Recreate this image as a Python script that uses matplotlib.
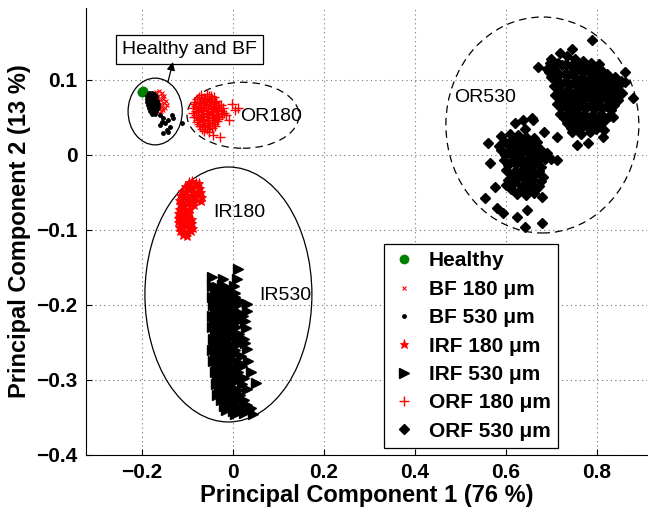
import matplotlib.pyplot as plt
from matplotlib.patches import Ellipse

plt.rcParams['font.family'] = ['Liberation Sans', 'DejaVu Sans']

# ---- data (PC1, PC2) ----
healthy_x = [-0.199, -0.199, -0.198]
healthy_y = [0.084, 0.084, 0.085]

bf180_x = [-0.170, -0.163, -0.157,
           -0.178, -0.171, -0.164, -0.157, -0.151,
           -0.175, -0.168, -0.161, -0.154, -0.148,
           -0.172, -0.165, -0.158, -0.151, -0.146,
           -0.170, -0.163, -0.156, -0.150,
           -0.166, -0.159, -0.153, -0.160]
bf180_y = [0.084, 0.085, 0.083,
           0.079, 0.080, 0.079, 0.078, 0.079,
           0.074, 0.075, 0.073, 0.074, 0.072,
           0.069, 0.070, 0.068, 0.069, 0.067,
           0.064, 0.063, 0.064, 0.062,
           0.059, 0.058, 0.060, 0.055]

bf530_x = [-0.185, -0.179, -0.173,
           -0.188, -0.182, -0.176, -0.170,
           -0.189, -0.183, -0.177, -0.171, -0.166,
           -0.188, -0.182, -0.176, -0.170, -0.165,
           -0.187, -0.181, -0.175, -0.169, -0.164,
           -0.185, -0.179, -0.173, -0.167,
           -0.182, -0.176, -0.170,
           -0.177, -0.171,
           -0.160, -0.154, -0.156, -0.149, -0.143, -0.138, -0.145,
           -0.160, -0.132, -0.112, -0.154, -0.143, -0.134]
bf530_y = [0.082, 0.083, 0.081,
           0.078, 0.079, 0.077, 0.078,
           0.074, 0.073, 0.075, 0.074, 0.072,
           0.070, 0.069, 0.071, 0.070, 0.068,
           0.066, 0.065, 0.067, 0.066, 0.064,
           0.062, 0.061, 0.063, 0.061,
           0.058, 0.057, 0.058,
           0.055, 0.054,
           0.053, 0.049, 0.044, 0.043, 0.047, 0.037, 0.033,
           0.040, 0.049, 0.043, 0.029, 0.031, 0.053]

irf180_x = [-0.097, -0.089, -0.081, -0.075,
            -0.106, -0.098, -0.090, -0.082, -0.072,
            -0.112, -0.104, -0.096, -0.088, -0.080, -0.070,
            -0.117, -0.109, -0.101, -0.093, -0.085, -0.077, -0.069,
            -0.118, -0.110, -0.102, -0.094, -0.086, -0.078, -0.071,
            -0.117, -0.109, -0.101, -0.093, -0.085,
            -0.119, -0.111, -0.103, -0.095,
            -0.120, -0.112, -0.104, -0.096,
            -0.121, -0.113, -0.105, -0.097, -0.090,
            -0.121, -0.113, -0.105, -0.097, -0.089,
            -0.119, -0.111, -0.103, -0.095, -0.088,
            -0.116, -0.108, -0.100, -0.093,
            -0.110, -0.102]
irf180_y = [-0.036, -0.035, -0.037, -0.038,
            -0.042, -0.041, -0.043, -0.042, -0.044,
            -0.048, -0.049, -0.047, -0.048, -0.049, -0.050,
            -0.054, -0.055, -0.053, -0.054, -0.055, -0.054, -0.056,
            -0.060, -0.061, -0.059, -0.060, -0.061, -0.060, -0.062,
            -0.066, -0.067, -0.065, -0.066, -0.067,
            -0.072, -0.071, -0.073, -0.072,
            -0.078, -0.079, -0.077, -0.078,
            -0.084, -0.085, -0.083, -0.084, -0.085,
            -0.090, -0.091, -0.089, -0.090, -0.091,
            -0.096, -0.097, -0.095, -0.096, -0.097,
            -0.102, -0.101, -0.103, -0.102,
            -0.107, -0.108]

irf530_x = [0.011, -0.047, -0.022, 0.008,
            -0.045, -0.035, -0.025, -0.012, 0.002,
            -0.040, -0.030, -0.020, -0.008, 0.005,
            -0.046, -0.036, -0.026, -0.016, -0.006, 0.004,
            -0.041, -0.031, -0.021, -0.011, -0.001, 0.015,
            -0.044, -0.034, -0.024, -0.014, -0.004, 0.008, 0.030,
            -0.040, -0.030, -0.020, -0.010, 0.000, 0.012, 0.030,
            -0.045, -0.035, -0.025, -0.015, -0.005, 0.005, 0.022,
            -0.041, -0.031, -0.021, -0.011, 0.000, 0.012, 0.026,
            -0.046, -0.036, -0.026, -0.016, -0.006, 0.006, 0.028,
            -0.040, -0.030, -0.020, -0.010, 0.000, 0.014,
            -0.044, -0.034, -0.024, -0.014, -0.004, 0.008, 0.024,
            -0.041, -0.031, -0.021, -0.011, 0.000, 0.012, 0.027,
            -0.045, -0.035, -0.025, -0.015, -0.005, 0.005, 0.030,
            -0.039, -0.029, -0.019, -0.009, 0.003, 0.018,
            -0.043, -0.033, -0.023, -0.013, -0.003, 0.010, 0.033,
            -0.037, -0.027, -0.017, -0.007, 0.005, 0.020,
            -0.040, -0.030, -0.020, -0.010, 0.000, 0.012, 0.040,
            -0.035, -0.025, -0.015, -0.005, 0.007, 0.025,
            -0.038, -0.028, -0.018, -0.008, 0.002, 0.020, 0.050,
            -0.031, -0.021, -0.011, -0.001, 0.010, 0.030,
            -0.034, -0.024, -0.014, -0.004, 0.006, 0.016,
            -0.027, -0.017, -0.007, 0.003, 0.014, 0.024,
            -0.020, -0.010, 0.000, 0.010, 0.030, 0.040,
            -0.015, 0.000, 0.015, 0.035,
            0.005, 0.025, 0.045]
irf530_y = [-0.152, -0.163, -0.165, -0.166,
            -0.175, -0.176, -0.174, -0.177, -0.175,
            -0.182, -0.183, -0.181, -0.182, -0.184,
            -0.190, -0.189, -0.191, -0.190, -0.188, -0.190,
            -0.195, -0.196, -0.194, -0.195, -0.197, -0.195,
            -0.200, -0.202, -0.201, -0.199, -0.202, -0.200, -0.199,
            -0.208, -0.207, -0.209, -0.208, -0.206, -0.209, -0.208,
            -0.215, -0.214, -0.216, -0.215, -0.213, -0.216, -0.215,
            -0.222, -0.223, -0.221, -0.222, -0.224, -0.222, -0.221,
            -0.230, -0.231, -0.229, -0.230, -0.232, -0.230, -0.231,
            -0.238, -0.237, -0.239, -0.238, -0.236, -0.239,
            -0.245, -0.244, -0.246, -0.245, -0.243, -0.246, -0.245,
            -0.252, -0.253, -0.251, -0.252, -0.254, -0.252, -0.251,
            -0.260, -0.261, -0.259, -0.260, -0.262, -0.260, -0.259,
            -0.268, -0.267, -0.269, -0.268, -0.266, -0.268,
            -0.275, -0.274, -0.276, -0.275, -0.273, -0.276, -0.275,
            -0.282, -0.283, -0.281, -0.282, -0.284, -0.282,
            -0.290, -0.291, -0.289, -0.290, -0.292, -0.290, -0.289,
            -0.298, -0.297, -0.299, -0.298, -0.296, -0.298,
            -0.305, -0.304, -0.306, -0.305, -0.303, -0.305, -0.304,
            -0.312, -0.313, -0.311, -0.312, -0.314, -0.312,
            -0.320, -0.321, -0.319, -0.320, -0.322, -0.320,
            -0.327, -0.326, -0.328, -0.327, -0.325, -0.327,
            -0.335, -0.334, -0.336, -0.335, -0.333, -0.337,
            -0.340, -0.341, -0.339, -0.340,
            -0.345, -0.344, -0.346]

orf180_x = [-0.070, -0.058, -0.048,
            -0.075, -0.064, -0.053, -0.042,
            -0.080, -0.069, -0.058, -0.047, -0.037,
            -0.083, -0.072, -0.061, -0.050, -0.039,
            -0.086, -0.075, -0.064, -0.053, -0.042, -0.031,
            -0.082, -0.071, -0.060, -0.049, -0.038, -0.027,
            -0.088, -0.077, -0.066, -0.055, -0.044, -0.033, -0.022,
            -0.082, -0.071, -0.060, -0.049, -0.038, -0.026,
            -0.087, -0.076, -0.065, -0.054, -0.043, -0.032, -0.020,
            -0.081, -0.069, -0.058, -0.047, -0.036, -0.025,
            -0.085, -0.074, -0.063, -0.052, -0.041, -0.030,
            -0.077, -0.066, -0.055, -0.044, -0.033,
            -0.080, -0.069, -0.058, -0.047, -0.036,
            -0.075, -0.064, -0.053, -0.042,
            -0.072, -0.061, -0.050, -0.040,
            -0.067, -0.056, -0.045,
            -0.064, -0.052,
            -0.015, -0.002, 0.011, 0.004, -0.044, -0.029, -0.008]
orf180_y = [0.080, 0.081, 0.079,
            0.077, 0.076, 0.078, 0.077,
            0.074, 0.075, 0.073, 0.074, 0.072,
            0.071, 0.070, 0.072, 0.071, 0.070,
            0.068, 0.069, 0.067, 0.068, 0.069, 0.067,
            0.065, 0.064, 0.066, 0.065, 0.064, 0.066,
            0.062, 0.061, 0.063, 0.062, 0.061, 0.063, 0.062,
            0.059, 0.060, 0.058, 0.059, 0.060, 0.058,
            0.056, 0.057, 0.055, 0.056, 0.057, 0.055, 0.056,
            0.053, 0.052, 0.054, 0.053, 0.052, 0.054,
            0.050, 0.049, 0.051, 0.050, 0.049, 0.051,
            0.047, 0.048, 0.046, 0.047, 0.048,
            0.044, 0.045, 0.043, 0.044, 0.045,
            0.041, 0.040, 0.042, 0.041,
            0.038, 0.037, 0.039, 0.038,
            0.035, 0.034, 0.036,
            0.032, 0.031,
            0.053, 0.068, 0.063, 0.060, 0.027, 0.024, 0.046]

orf530_x = [0.788, 0.670, 0.862, 0.879,
            0.700, 0.718, 0.735, 0.752, 0.770, 0.745,
            0.697, 0.715, 0.733, 0.751, 0.769, 0.787, 0.805,
            0.690, 0.706, 0.724, 0.742, 0.760, 0.778, 0.796, 0.812,
            0.695, 0.713, 0.731, 0.749, 0.767, 0.785, 0.803, 0.821,
            0.700, 0.716, 0.734, 0.752, 0.770, 0.788, 0.806, 0.824, 0.840,
            0.713, 0.731, 0.749, 0.767, 0.785, 0.803, 0.821, 0.839, 0.853,
            0.705, 0.722, 0.740, 0.758, 0.776, 0.794, 0.812, 0.830, 0.846, 0.862,
            0.717, 0.735, 0.753, 0.771, 0.789, 0.807, 0.825, 0.843,
            0.708, 0.726, 0.744, 0.762, 0.780, 0.798, 0.816, 0.834, 0.855,
            0.718, 0.736, 0.754, 0.772, 0.790, 0.808, 0.826, 0.846,
            0.712, 0.730, 0.748, 0.766, 0.784, 0.802, 0.820, 0.838,
            0.722, 0.740, 0.758, 0.776, 0.794, 0.812, 0.830,
            0.718, 0.736, 0.754, 0.772, 0.790, 0.808, 0.826,
            0.727, 0.745, 0.763, 0.781, 0.799, 0.817,
            0.735, 0.752, 0.770, 0.788, 0.806, 0.835,
            0.744, 0.762, 0.780, 0.798, 0.815,
            0.712, 0.745, 0.765, 0.785, 0.813,
            0.756, 0.780,
            # lower group
            0.659, 0.620, 0.642, 0.657, 0.637,
            0.590, 0.608, 0.626, 0.644, 0.662, 0.683,
            0.596, 0.614, 0.632, 0.650, 0.668,
            0.585, 0.602, 0.620, 0.638, 0.656, 0.674,
            0.590, 0.608, 0.626, 0.644, 0.662, 0.680,
            0.598, 0.616, 0.634, 0.652, 0.670, 0.690,
            0.596, 0.614, 0.632, 0.650, 0.668, 0.686,
            0.605, 0.623, 0.641, 0.659, 0.677, 0.700,
            0.601, 0.619, 0.637, 0.655, 0.673,
            0.610, 0.628, 0.646, 0.664, 0.682,
            0.605, 0.623, 0.641, 0.659, 0.677,
            0.600, 0.618, 0.636, 0.654, 0.672,
            0.612, 0.630, 0.648, 0.666,
            0.625, 0.643, 0.661, 0.680,
            0.554, 0.580, 0.593, 0.624, 0.642, 0.679, 0.646,
            0.565, 0.560, 0.712, 0.576]
orf530_y = [0.153, 0.117, 0.111, 0.076,
            0.128, 0.136, 0.132, 0.128, 0.126, 0.141,
            0.122, 0.123, 0.121, 0.122, 0.120, 0.122, 0.121,
            0.115, 0.118, 0.120, 0.118, 0.116, 0.117, 0.114, 0.112,
            0.110, 0.111, 0.109, 0.110, 0.111, 0.109, 0.110, 0.108,
            0.104, 0.106, 0.105, 0.104, 0.103, 0.104, 0.102, 0.100, 0.104,
            0.098, 0.099, 0.097, 0.098, 0.099, 0.097, 0.098, 0.096, 0.099,
            0.092, 0.094, 0.093, 0.092, 0.091, 0.092, 0.090, 0.089, 0.092, 0.097,
            0.086, 0.087, 0.085, 0.086, 0.087, 0.085, 0.086, 0.085,
            0.080, 0.081, 0.080, 0.079, 0.080, 0.078, 0.079, 0.077, 0.082,
            0.074, 0.073, 0.075, 0.074, 0.073, 0.075, 0.074, 0.073,
            0.068, 0.067, 0.068, 0.066, 0.067, 0.066, 0.065, 0.067,
            0.062, 0.061, 0.063, 0.062, 0.061, 0.063, 0.060,
            0.055, 0.056, 0.054, 0.055, 0.053, 0.055, 0.052,
            0.049, 0.048, 0.050, 0.049, 0.048, 0.047,
            0.043, 0.042, 0.041, 0.043, 0.040, 0.051,
            0.036, 0.035, 0.037, 0.034, 0.033,
            0.024, 0.030, 0.028, 0.030, 0.024,
            0.013, 0.016,
            # lower group
            0.047, 0.043, 0.035, 0.049, 0.047,
            0.025, 0.028, 0.026, 0.024, 0.022, 0.030,
            0.019, 0.020, 0.018, 0.019, 0.017,
            0.012, 0.014, 0.012, 0.013, 0.010, 0.008,
            0.006, 0.005, 0.007, 0.006, 0.005, 0.004,
            0.000, -0.002, 0.001, -0.003, -0.001, 0.002,
            -0.007, -0.008, -0.006, -0.007, -0.008, -0.006,
            -0.014, -0.012, -0.015, -0.013, -0.016, -0.005,
            -0.020, -0.021, -0.019, -0.020, -0.022,
            -0.027, -0.025, -0.028, -0.026, -0.030,
            -0.033, -0.034, -0.032, -0.033, -0.035,
            -0.040, -0.038, -0.041, -0.039, -0.042,
            -0.046, -0.047, -0.045, -0.046,
            -0.052, -0.054, -0.051, -0.056,
            -0.057, -0.071, -0.077, -0.083, -0.096, -0.091, -0.073,
            -0.011, 0.016, -0.007, -0.043]

# group outlines: centre x, centre y, width, height, dashed?
outlines = [(-0.171, 0.058, 0.119, 0.089, False),
            (0.022, 0.053, 0.246, 0.088, True),
            (-0.010, -0.186, 0.367, 0.340, False),
            (0.680, 0.040, 0.424, 0.288, True)]

group_labels = ['OR180', 'OR530', 'IR180', 'IR530']
group_label_x = [0.015, 0.486, -0.044, 0.057]
group_label_y = [0.051, 0.076, -0.077, -0.187]

fig = plt.figure(figsize=(6.57, 5.13), dpi=100)
ax = fig.add_axes([0.1309, 0.1131, 0.8539, 0.8713])

ax.plot(healthy_x, healthy_y, 'o', color='#008000', ms=6, mec='#008000', label='Healthy')
ax.plot(bf180_x, bf180_y, 'x', color='red', ms=3.5, mew=0.8, label='BF 180 μm')
ax.plot(bf530_x, bf530_y, '.', color='black', ms=5, label='BF 530 μm')
ax.plot(irf180_x, irf180_y, '*', color='red', ms=6.5, mew=0.6, label='IRF 180 μm')
ax.plot(irf530_x, irf530_y, '>', color='black', ms=6.5, label='IRF 530 μm')
ax.plot(orf180_x, orf180_y, '+', color='red', ms=7.5, mew=1.0, label='ORF 180 μm')
ax.plot(orf530_x, orf530_y, 'D', color='black', ms=5.5, label='ORF 530 μm')

for cx, cy, w, h, dashed in outlines:
    ax.add_patch(Ellipse((cx, cy), w, h, fill=False, ec='black', lw=0.9,
                         ls=(0, (6, 4)) if dashed else '-'))

for t, tx, ty in zip(group_labels, group_label_x, group_label_y):
    ax.text(tx, ty, t, fontsize=14, va='center', ha='left')

ax.text(-0.0956, 0.141, 'Healthy and BF', fontsize=14, ha='center', va='center',
        bbox=dict(boxstyle='square,pad=0.3', fc='white', ec='black', lw=0.9))
# arrow from the Healthy/BF outline up to the box
ax.annotate('', xy=(-0.132, 0.124), xytext=(-0.143, 0.097),
            arrowprops=dict(arrowstyle='-|>', color='black', lw=0.9,
                            mutation_scale=12, shrinkA=0, shrinkB=0))

ax.set_xlim(-0.323, 0.910)
ax.set_ylim(-0.4, 0.196)
ax.set_xticks([-0.2, 0, 0.2, 0.4, 0.6, 0.8])
ax.set_xticklabels(['\u22120.2', '0', '0.2', '0.4', '0.6', '0.8'])
ax.set_yticks([-0.4, -0.3, -0.2, -0.1, 0, 0.1])
ax.set_yticklabels(['\u22120.4', '\u22120.3', '\u22120.2', '\u22120.1', '0', '0.1'])
for lab in ax.get_xticklabels() + ax.get_yticklabels():
    lab.set_fontweight('bold')
    lab.set_fontsize(15)

ax.grid(True, ls=(0, (1, 3)), color='0.45', lw=0.8)
ax.set_axisbelow(True)
ax.spines['top'].set_visible(False)
ax.spines['right'].set_visible(False)
ax.tick_params(direction='in', length=4, width=0.8, pad=6)

ax.set_xlabel('Principal Component 1 (76 %)', fontsize=17, fontweight='bold', labelpad=1)
ax.set_ylabel('Principal Component 2 (13 %)', fontsize=17, fontweight='bold', labelpad=4)

leg = ax.legend(loc='upper left', bbox_to_anchor=(0.5845, 0.524),
                bbox_transform=fig.transFigure,
                prop={'weight': 'bold', 'size': 15}, fancybox=False,
                framealpha=1, edgecolor='black', borderpad=0.35,
                labelspacing=0.45, handlelength=1.2, handletextpad=0.6,
                borderaxespad=0)
leg.get_frame().set_linewidth(0.9)

fig.savefig('out.png', dpi=100)
